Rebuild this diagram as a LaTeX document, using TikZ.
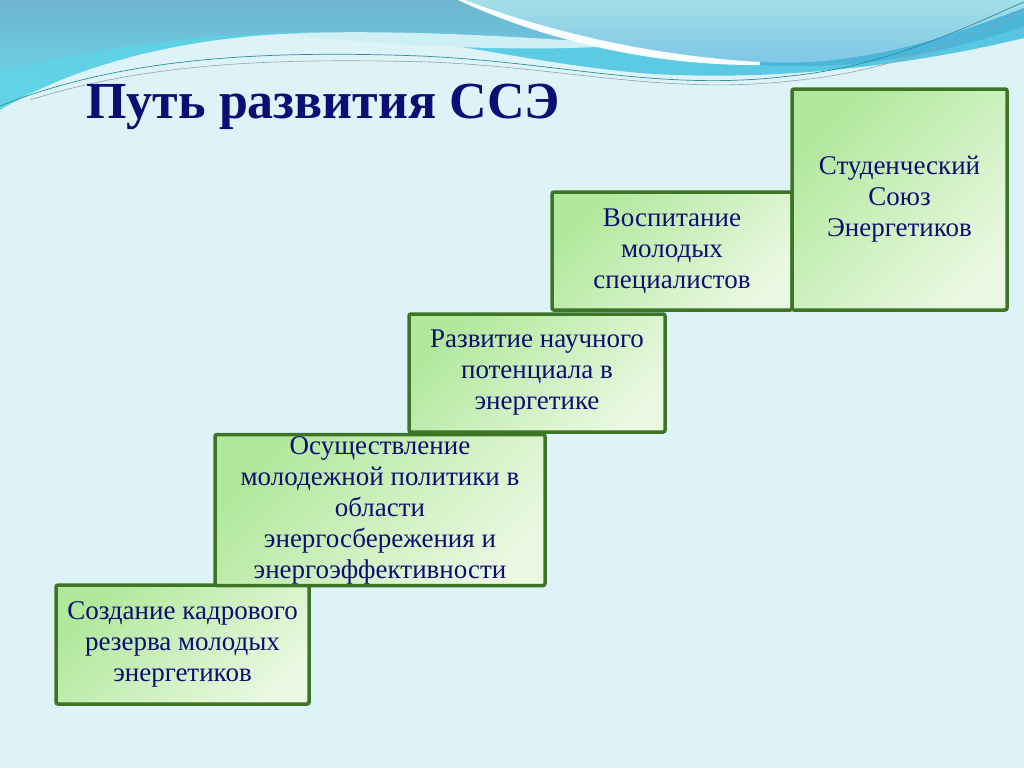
\documentclass[tikz,border=0pt]{standalone}
\usepackage{fontspec}
\setmainfont{Liberation Serif}
\usepackage{tikz}
\definecolor{paleaqua}{RGB}{221, 243, 248}
\definecolor{lagoon}{RGB}{96, 211, 230}
\definecolor{lagoondeep}{RGB}{88, 198, 226}
\definecolor{steelsky}{RGB}{110, 180, 209}
\definecolor{steelsoft}{RGB}{108, 206, 226}
\definecolor{mistblue}{RGB}{162, 222, 230}
\definecolor{mistdeep}{RGB}{123, 197, 230}
\definecolor{oceanline}{RGB}{75, 182, 218}
\definecolor{foam}{RGB}{206, 239, 244}
\definecolor{tealline}{RGB}{45, 143, 153}
\definecolor{greyline}{RGB}{138, 166, 174}
\definecolor{leaf}{RGB}{176, 232, 156}
\definecolor{leafpale}{RGB}{233, 248, 224}
\definecolor{forest}{RGB}{62, 116, 38}
\definecolor{navy}{RGB}{13, 13, 115}

\begin{document}
\begin{tikzpicture}[x=1pt, y=-1pt,
    stair/.style={draw=forest, line width=3.5pt, rounded corners=2pt,
        left color=leaf, right color=leafpale, shading angle=45,
        inner sep=0pt, outer sep=0pt, align=center, text=navy,
        font=\fontsize{27}{31}\selectfont}]
    \useasboundingbox (0,0) rectangle (1024,768);
    \fill[paleaqua] (0,0) rectangle (1024,768);
    % waves at the top
    \shade[left color=lagoon, right color=lagoondeep] (0,0) -- (0,110) .. controls (80,62) and (200,32) .. (330,33) .. controls (430,35) and (520,62) .. (640,73) .. controls (760,82) and (900,68) .. (1024,38) -- (1024,0) -- cycle;
    \shade[top color=steelsky, bottom color=steelsoft] (0,0) -- (0,72) .. controls (100,48) and (200,33) .. (300,33) .. controls (400,30) and (520,36) .. (630,45) .. controls (560,30) and (510,15) .. (465,0) -- cycle;
    \fill[foam]                                     (300,33) .. controls (400,30) and (520,36) .. (630,45) .. controls (540,52) and (420,48) .. (300,36) -- cycle;
    \shade[top color=mistblue, bottom color=mistdeep] (465,0) .. controls (540,28) and (640,55) .. (760,62) .. controls (870,68) and (960,32) .. (1024,8) -- (1024,0) -- cycle;
    \fill[white!85!foam]                            (458,0) .. controls (530,34) and (640,66) .. (760,65) -- (760,62) .. controls (640,55) and (540,28) .. (465,0) -- cycle;
    \fill[oceanline]                                (760,62) .. controls (870,68) and (960,32) .. (1024,8) -- (1024,26) .. controls (960,48) and (870,72) .. (760,65) -- cycle;
    \draw[tealline, line width=0.7pt] (0,106) .. controls (120,58) and (260,50) .. (420,56) .. controls (560,62) and (660,92) .. (790,76) .. controls (890,66) and (970,25) .. (1024,2);
    \draw[greyline, line width=0.6pt] (30,100) .. controls (150,62) and (280,58) .. (430,62) .. controls (570,68) and (670,96) .. (800,80) .. controls (900,70) and (975,32) .. (1024,12);
    % title
    \node[anchor=base west, text=navy, font=\fontsize{52}{60}\selectfont\bfseries] (title) at (83,118) {Путь развития ССЭ};
    % steps
    \node[stair, minimum width=253pt, minimum height=119pt] (reserve) at (182.5,644.5) {Создание кадрового\\резерва молодых\\энергетиков};
    \node[stair, minimum width=330pt, minimum height=151pt] (policy)  at (380,510)     {Осуществление\\молодежной политики в\\области\\энергосбережения и\\энергоэффективности};
    \node[stair, minimum width=256pt, minimum height=118pt] (science) at (537,373)     {Развитие научного\\потенциала в\\энергетике};
    \node[stair, minimum width=240pt, minimum height=118pt] (youth)   at (672,251)     {Воспитание\\молодых\\специалистов};
    \node[stair, minimum width=215pt, minimum height=221pt] (union)   at (899.5,199.5) {Студенческий\\Союз\\Энергетиков};
\end{tikzpicture}
\end{document}
